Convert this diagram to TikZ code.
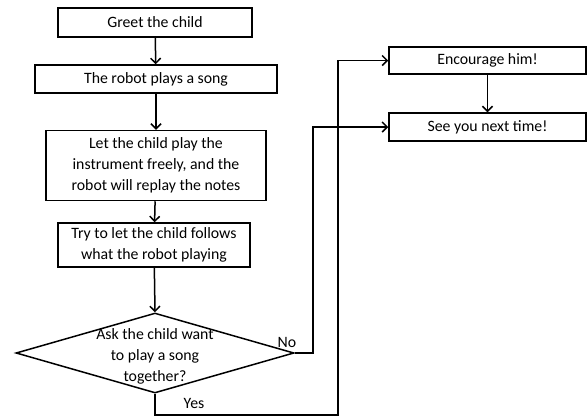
\documentclass[tikz,border=0pt]{standalone}
\usepackage{fontspec}
\setmainfont{Carlito}
\usetikzlibrary{shapes.geometric,arrows.meta}
\begin{document}
\begin{tikzpicture}[x=1pt,y=-1pt,font=\fontsize{15.8}{21}\selectfont,
  stepbox/.style={draw,line width=1.5pt,align=center,inner sep=0pt},
  decision/.style={draw,line width=1.5pt,diamond,inner sep=0pt,
    minimum width=278pt,minimum height=80pt},
  flow/.style={-{Straight Barb[length=5pt,width=10pt]},line width=1.5pt}]
  \useasboundingbox (0,0) rectangle (587,416);
  % main column
  \node[stepbox,minimum width=194pt,minimum height=29pt] (greet) at (155,22.5) {Greet the child};
  \node[stepbox,minimum width=242pt,minimum height=28pt] (song) at (156,79) {The robot plays a song};
  \node[stepbox,minimum width=220pt,minimum height=70pt] (free) at (156,165.5)
    {Let the child play the\\instrument freely, and the\\robot will replay the notes};
  \node[stepbox,minimum width=192pt,minimum height=44pt] (follow) at (154,245)
    {Try to let the child follows\\what the robot playing};
  \node[decision] (ask) at (155,353) {};
  \node[align=center,inner sep=0pt] (asktext) at (155,356)
    {Ask the child want\\to play a song\\together?};
  % right column
  \node[stepbox,minimum width=197pt,minimum height=27pt] (enc) at (487.5,60.5) {Encourage him!};
  \node[stepbox,minimum width=197pt,minimum height=28pt] (bye) at (487.5,127) {See you next time!};
  % connectors
  \draw[flow] (greet) -- (song);
  \draw[flow] (song) -- (free);
  \draw[flow] (free) -- (follow);
  \draw[flow] (follow) -- (ask.north);
  \draw[flow] (enc) -- (bye);
  \coordinate (yesturn) at (338,415);
  \coordinate (noturn) at (313,353);
  \draw[flow] (ask.south) |- (yesturn) |- (enc.west);
  \draw[flow] (ask.east) -- (noturn) |- (bye.west);
  \node (yes) at (194,403) {Yes};
  \node (no) at (287,342) {No};
\end{tikzpicture}
\end{document}
